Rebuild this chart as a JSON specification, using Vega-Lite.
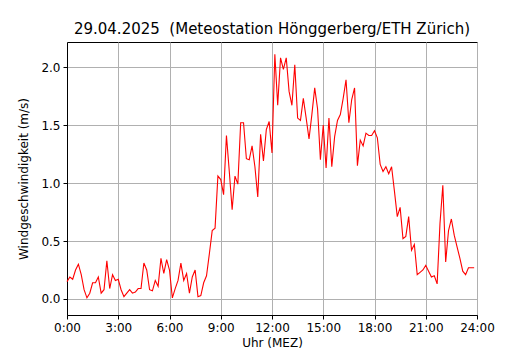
{
  "$schema": "https://vega.github.io/schema/vega-lite/v6.json",
  "width": 410,
  "height": 273,
  "autosize": {"type": "none"},
  "padding": {"left": 67, "top": 42, "right": 53, "bottom": 35},
  "background": "white",
  "config": {
    "font": "DejaVu Sans",
    "view": {"stroke": "black", "strokeWidth": 1},
    "axis": {
      "domainColor": "black",
      "domainWidth": 1,
      "tickColor": "black",
      "tickSize": 4,
      "tickWidth": 1,
      "labelFontSize": 12,
      "labelColor": "black",
      "labelPadding": 3,
      "titleFontSize": 12,
      "titleFontWeight": "normal",
      "titleColor": "black",
      "gridColor": "#b0b0b0",
      "gridOpacity": 1,
      "gridWidth": 1,
      "labelFlush": false,
      "labelOverlap": false
    }
  },
  "title": {"text": "29.04.2025 \u00a0(Meteostation Hönggerberg/ETH Zürich)", "fontSize": 15, "fontWeight": "normal", "color": "black", "offset": 5, "anchor": "middle"},
  "data": {"values": [
    {"min": 0, "v": 0.15}, {"min": 10, "v": 0.19}, {"min": 20, "v": 0.17}, {"min": 30, "v": 0.25}, {"min": 40, "v": 0.30}, {"min": 50, "v": 0.21},
    {"min": 60, "v": 0.08}, {"min": 70, "v": 0.01}, {"min": 80, "v": 0.05}, {"min": 90, "v": 0.14}, {"min": 100, "v": 0.14}, {"min": 110, "v": 0.19},
    {"min": 120, "v": 0.05}, {"min": 130, "v": 0.08}, {"min": 140, "v": 0.33}, {"min": 150, "v": 0.09}, {"min": 160, "v": 0.21}, {"min": 170, "v": 0.16},
    {"min": 180, "v": 0.17}, {"min": 190, "v": 0.08}, {"min": 200, "v": 0.02}, {"min": 210, "v": 0.05}, {"min": 220, "v": 0.08}, {"min": 230, "v": 0.05},
    {"min": 240, "v": 0.06}, {"min": 250, "v": 0.09}, {"min": 260, "v": 0.09}, {"min": 270, "v": 0.31}, {"min": 280, "v": 0.25}, {"min": 290, "v": 0.08},
    {"min": 300, "v": 0.07}, {"min": 310, "v": 0.16}, {"min": 320, "v": 0.11}, {"min": 330, "v": 0.35}, {"min": 340, "v": 0.22}, {"min": 350, "v": 0.34},
    {"min": 360, "v": 0.25}, {"min": 370, "v": 0.01}, {"min": 380, "v": 0.09}, {"min": 390, "v": 0.16}, {"min": 400, "v": 0.31}, {"min": 410, "v": 0.16},
    {"min": 420, "v": 0.22}, {"min": 430, "v": 0.05}, {"min": 440, "v": 0.19}, {"min": 450, "v": 0.25}, {"min": 460, "v": 0.02}, {"min": 470, "v": 0.03},
    {"min": 480, "v": 0.14}, {"min": 490, "v": 0.20}, {"min": 500, "v": 0.39}, {"min": 510, "v": 0.59}, {"min": 520, "v": 0.61}, {"min": 530, "v": 1.06},
    {"min": 540, "v": 1.03}, {"min": 550, "v": 0.90}, {"min": 560, "v": 1.41}, {"min": 570, "v": 1.10}, {"min": 580, "v": 0.77}, {"min": 590, "v": 1.06},
    {"min": 600, "v": 0.99}, {"min": 610, "v": 1.52}, {"min": 620, "v": 1.52}, {"min": 630, "v": 1.21}, {"min": 640, "v": 1.20}, {"min": 650, "v": 1.32},
    {"min": 660, "v": 1.14}, {"min": 670, "v": 0.88}, {"min": 680, "v": 1.42}, {"min": 690, "v": 1.19}, {"min": 700, "v": 1.46}, {"min": 710, "v": 1.53},
    {"min": 720, "v": 1.26}, {"min": 730, "v": 2.11}, {"min": 740, "v": 1.67}, {"min": 750, "v": 2.08}, {"min": 760, "v": 1.98}, {"min": 770, "v": 2.08},
    {"min": 780, "v": 1.79}, {"min": 790, "v": 1.67}, {"min": 800, "v": 2.02}, {"min": 810, "v": 1.56}, {"min": 820, "v": 1.54}, {"min": 830, "v": 1.73},
    {"min": 840, "v": 1.56}, {"min": 850, "v": 1.38}, {"min": 860, "v": 1.59}, {"min": 870, "v": 1.82}, {"min": 880, "v": 1.64}, {"min": 890, "v": 1.20},
    {"min": 900, "v": 1.50}, {"min": 910, "v": 1.13}, {"min": 920, "v": 1.56}, {"min": 930, "v": 1.14}, {"min": 940, "v": 1.40}, {"min": 950, "v": 1.54},
    {"min": 960, "v": 1.59}, {"min": 970, "v": 1.73}, {"min": 980, "v": 1.89}, {"min": 990, "v": 1.52}, {"min": 1000, "v": 1.72}, {"min": 1010, "v": 1.82},
    {"min": 1020, "v": 1.15}, {"min": 1030, "v": 1.37}, {"min": 1040, "v": 1.32}, {"min": 1050, "v": 1.43}, {"min": 1060, "v": 1.41}, {"min": 1070, "v": 1.41},
    {"min": 1080, "v": 1.45}, {"min": 1090, "v": 1.39}, {"min": 1100, "v": 1.16}, {"min": 1110, "v": 1.10}, {"min": 1120, "v": 1.14}, {"min": 1130, "v": 1.08},
    {"min": 1140, "v": 1.14}, {"min": 1150, "v": 0.93}, {"min": 1160, "v": 0.71}, {"min": 1170, "v": 0.79}, {"min": 1180, "v": 0.52}, {"min": 1190, "v": 0.54},
    {"min": 1200, "v": 0.71}, {"min": 1210, "v": 0.42}, {"min": 1220, "v": 0.47}, {"min": 1230, "v": 0.21}, {"min": 1240, "v": 0.23}, {"min": 1250, "v": 0.25},
    {"min": 1260, "v": 0.29}, {"min": 1270, "v": 0.24}, {"min": 1280, "v": 0.19}, {"min": 1290, "v": 0.20}, {"min": 1300, "v": 0.13}, {"min": 1310, "v": 0.65},
    {"min": 1320, "v": 0.98}, {"min": 1330, "v": 0.32}, {"min": 1340, "v": 0.59}, {"min": 1350, "v": 0.69}, {"min": 1360, "v": 0.55}, {"min": 1370, "v": 0.45},
    {"min": 1380, "v": 0.35}, {"min": 1390, "v": 0.24}, {"min": 1400, "v": 0.21}, {"min": 1410, "v": 0.27}, {"min": 1420, "v": 0.27}, {"min": 1430, "v": 0.27}
  ]},
  "mark": {"type": "line", "color": "red", "strokeWidth": 1.1},
  "encoding": {
    "x": {
      "field": "min",
      "type": "quantitative",
      "scale": {"domain": [0, 1440], "nice": false, "zero": false},
      "axis": {
        "values": [0, 180, 360, 540, 720, 900, 1080, 1260, 1440],
        "labelExpr": "floor(datum.value / 60) + ':00'",
        "title": "Uhr (MEZ)",
        "titlePadding": 4
      }
    },
    "y": {
      "field": "v",
      "type": "quantitative",
      "scale": {"domain": [-0.138, 2.216], "nice": false, "zero": false},
      "axis": {
        "values": [0, 0.5, 1, 1.5, 2],
        "format": ".1f",
        "title": "Windgeschwindigkeit (m/s)",
        "titlePadding": 10
      }
    }
  }
}
